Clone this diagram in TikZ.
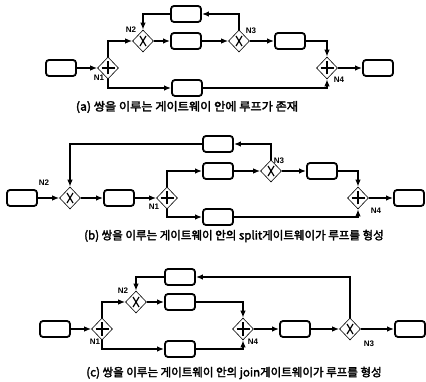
\documentclass[tikz,border=0pt]{standalone}
\usepackage{fontspec}
\setsansfont{Liberation Sans}
\newfontfamily\kr[AutoFakeBold=2.5]{Noto Sans CJK KR}
\usetikzlibrary{arrows.meta,shapes.geometric}
\tikzset{
  task/.style={draw, line width=1.8, rounded corners=3, minimum width=30, minimum height=16, inner sep=0},
  gw/.style={draw, diamond, line width=0.6, minimum width=21, minimum height=22, inner sep=0},
  andgw/.style={gw, path picture={
      \draw[line width=1.9]
        ([xshift=-6.5pt]path picture bounding box.center) -- ([xshift=6.5pt]path picture bounding box.center)
        ([yshift=-6.5pt]path picture bounding box.center) -- ([yshift=6.5pt]path picture bounding box.center);}},
  xorgw/.style={gw, path picture={
      \draw[line width=1.2]
        ([shift={(-3pt,-5pt)}]path picture bounding box.center) -- ([shift={(3pt,5pt)}]path picture bounding box.center)
        ([shift={(-3pt,5pt)}]path picture bounding box.center) -- ([shift={(3pt,-5pt)}]path picture bounding box.center);}},
  conn/.style={line width=1.4, -{Latex[length=7pt,width=5.5pt]}},
  lbl/.style={font=\sffamily\bfseries\fontsize{8}{8}\selectfont, inner sep=0},
  captext/.style={font=\kr\bfseries\fontsize{11.5}{13}\selectfont, inner sep=0},
}
\begin{document}
\begin{tikzpicture}[x=1pt, y=-1pt]
\fill[white] (0,0) rectangle (426,382);
\useasboundingbox (0,0) rectangle (426,382);

% (a) loop inside a gateway pair
\node[task]  (a0) at (61,68) {};
\node[andgw] (a1) at (108,68) {};
\node[xorgw] (a2) at (143,41) {};
\node[task]  (aT) at (186,14) {};
\node[task]  (aM) at (186,41) {};
\node[xorgw] (a3) at (239,41) {};
\node[task]  (aR) at (290,41) {};
\node[andgw] (a4) at (327,68) {};
\node[task]  (aE) at (378,68) {};
\node[task]  (aB) at (187,88) {};
\node[lbl] (aL1) at (99,78) {N1};
\node[lbl] (aL2) at (131,30) {N2};
\node[lbl] (aL3) at (251,31) {N3};
\node[lbl] (aL4) at (339,80) {N4};
\draw[conn] (a0) -- (a1);
\draw[conn] (a1.north) |- (a2);
\draw[conn] (a2) -- (aM);
\draw[conn] (aM) -- (a3);
\draw[conn] (a3.north) |- (aT);
\draw[conn] (aT) -| (a2.north);
\draw[conn] (a3) -- (aR);
\draw[conn] (aR) -| (a4.north);
\draw[conn] (a1.south) |- (aB);
\draw[conn] (aB) -| (a4.south);
\draw[conn] (a4) -- (aE);
\node[captext] (aC) at (187,107) {\scalebox{1.06}[1]{(a) 쌍을 이루는 게이트웨이 안에 루프가 존재}};

% (b) split gateway forms the loop
\node[task]  (b0) at (22,198) {};
\node[xorgw] (b2) at (70,198) {};
\node[task]  (bA) at (119,198) {};
\node[andgw] (b1) at (167,198) {};
\node[task]  (bU) at (218,171) {};
\node[xorgw] (b3) at (271,171) {};
\node[task]  (bT) at (218,144) {};
\node[task]  (bR) at (322,171) {};
\node[andgw] (b4) at (358,198) {};
\node[task]  (bE) at (409,198) {};
\node[task]  (bB) at (218,217) {};
\node[lbl] (bL2) at (44,183) {N2};
\node[lbl] (bL1) at (154,207) {N1};
\node[lbl] (bL3) at (279,161) {N3};
\node[lbl] (bL4) at (376,211) {N4};
\draw[conn] (b0) -- (b2);
\draw[conn] (b2) -- (bA);
\draw[conn] (bA) -- (b1);
\draw[conn] (b1.north) |- (bU);
\draw[conn] (bU) -- (b3);
\draw[conn] (b3.north) |- (bT);
\draw[conn] (bT) -| (b2.north);
\draw[conn] (b3) -- (bR);
\draw[conn] (bR) -| (b4.north);
\draw[conn] (b1.south) |- (bB);
\draw[conn] (bB) -| (b4.south);
\draw[conn] (b4) -- (bE);
\node[captext] (bC) at (234,236) {(b) 쌍을 이루는 게이트웨이 안의 split게이트웨이가 루프를 형성};

% (c) join gateway forms the loop
\node[task]  (c0) at (55,329) {};
\node[andgw] (c1) at (102,329) {};
\node[xorgw] (c2) at (136,302) {};
\node[task]  (cT) at (180,277) {};
\node[task]  (cM) at (180,302) {};
\node[andgw] (c4) at (243,329) {};
\node[task]  (cB) at (180,349) {};
\node[task]  (cR) at (295,329) {};
\node[xorgw] (c3) at (350,329) {};
\node[task]  (cE) at (410,329) {};
\node[lbl] (cL1) at (95,342) {N1};
\node[lbl] (cL2) at (123,291) {N2};
\node[lbl] (cL4) at (253,342) {N4};
\node[lbl] (cL3) at (369,344) {N3};
\draw[conn] (c0) -- (c1);
\draw[conn] (c1.north) |- (c2);
\draw[conn] (c2) -- (cM);
\draw[conn] (cM) -| (c4.north);
\draw[conn] (c1.south) |- (cB);
\draw[conn] (cB) -| (c4.south);
\draw[conn] (c4) -- (cR);
\draw[conn] (cR) -- (c3);
\draw[conn] (c3.north) |- (cT);
\draw[conn] (cT) -| (c2.north);
\draw[conn] (c3) -- (cE);
\node[captext] (cC) at (234,373) {(c) 쌍을 이루는 게이트웨이 안의 join게이트웨이가 루프를 형성};
\end{tikzpicture}
\end{document}
